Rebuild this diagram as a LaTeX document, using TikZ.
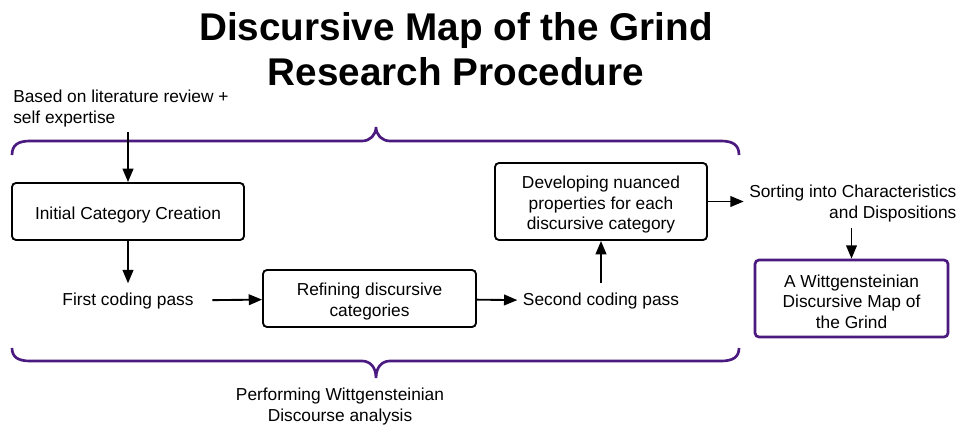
\documentclass[tikz,border=0pt]{standalone}
\usepackage{fontspec}
\setmainfont{Liberation Sans}
\usetikzlibrary{arrows.meta}
\definecolor{grindpurple}{RGB}{74,26,128}
\newcommand{\cellrise}{\rule{0pt}{14pt}}
\tikzset{
  procbox/.style={draw, line width=1.4pt, rounded corners=3pt, align=center,
    inner sep=0pt, font=\fontsize{13}{15.5}\selectfont},
  note/.style={align=center, inner sep=4pt, font=\fontsize{13}{15.5}\selectfont},
  flow/.style={-{Triangle[length=10pt,width=8pt]}, line width=1.4pt},
  brace/.style={grindpurple, line width=2pt}
}
\begin{document}
\begin{tikzpicture}[x=0.75pt,y=-0.75pt]
\useasboundingbox (0,0) rectangle (962,425);

% Title
\node[align=center, font=\fontsize{29}{34}\selectfont\bfseries] (title) at (456,49)
  {Discursive Map of the Grind\\Research Procedure};

% Braces
\draw[brace] (12,155) .. controls (12,145) and (18,141) .. (30,141) -- (362,141)
  .. controls (370,141) and (376,135) .. (376,127)
  .. controls (376,135) and (382,141) .. (390,141) -- (721,141)
  .. controls (733,141) and (739,145) .. (739,155);
\draw[brace] (12,348) .. controls (12,357) and (18,361) .. (30,361) -- (362,361)
  .. controls (370,361) and (376,367) .. (376,378)
  .. controls (376,367) and (382,361) .. (390,361) -- (721,361)
  .. controls (733,361) and (739,357) .. (739,348);

% Steps
\node[note, align=left, anchor=west, inner sep=0pt] (lit) at (13,108.5)
  {Based on literature review +\\self expertise};
\coordinate (litend) at (128,132);
\node[procbox, minimum width=174pt, minimum height=42.75pt] (initial) at (128,211.5)
  {\cellrise Initial Category Creation};
\node[note] (first) at (128,301) {First coding pass};
\node[procbox, minimum width=159.75pt, minimum height=42.75pt] (refine) at (369.5,298.5)
  {\cellrise Refining discursive\\categories};
\node[note] (second) at (601,301) {Second coding pass};
\node[procbox, minimum width=159pt, minimum height=57.75pt] (develop) at (601,201.5)
  {\cellrise Developing nuanced\\properties for each\\discursive category};
\node[note, align=right, anchor=east] (sorting) at (962,203.5)
  {Sorting into Characteristics\\and Dispositions};
\node[procbox, draw=grindpurple, line width=2pt, minimum width=144.75pt,
  minimum height=57.75pt] (wittmap) at (851.5,298.5)
  {\cellrise A Wittgensteinian\\Discursive Map of\\the Grind};
\node[note] (perform) at (340,406.5) {Performing Wittgensteinian\\Discourse analysis};

% Arrows
\draw[flow] (litend) -- (initial);
\draw[flow, shorten >=3pt] (initial) -- (first);
\draw[flow, shorten <=10pt] (first) -- (refine);
\draw[flow] (refine) -- (second);
\draw[flow, shorten <=3pt] (second) -- (develop);
\draw[flow] (develop.east) -- (develop.east -| sorting.west);
\draw[flow] (sorting.south -| wittmap.north) -- (wittmap.north);

\end{tikzpicture}
\end{document}
